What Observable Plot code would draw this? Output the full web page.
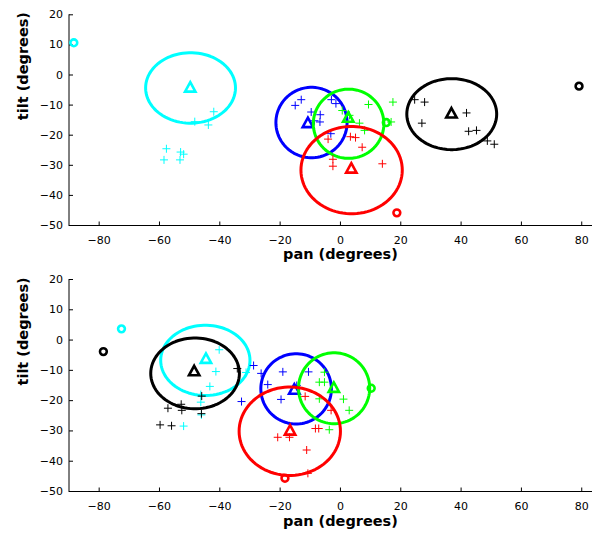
<!DOCTYPE html>
<html>
<head>
<meta charset="utf-8">
<script src="https://cdn.jsdelivr.net/npm/d3@7"></script>
<script src="https://cdn.jsdelivr.net/npm/@observablehq/plot@0.6"></script>
<style>
  html, body { margin: 0; padding: 0; background: white; overflow: hidden; }
  #chart svg { display: block; }
</style>
</head>
<body>
<div id="chart"></div>
<script>
// ---------- data ----------
const colorNames = ["cyan", "blue", "green", "red", "black"];
const colorValues = ["#00ffff", "#0000ff", "#00ff00", "#ff0000", "#000000"];
const xTicks = [-80, -60, -40, -20, 0, 20, 40, 60, 80];
const yTicks = [-50, -40, -30, -20, -10, 0, 10, 20];
const xLabel = "pan (degrees)";
const yLabel = "tilt (degrees)";

// top panel: ellipses (order = colorNames)
const topEllipseCX = [-49.7, -9.6, 2.7, 3.7, 36.9];
const topEllipseCY = [-4.3, -15.8, -16.2, -31.6, -13.0];
const topEllipseRX = [14.9, 11.8, 11.7, 16.8, 14.9];
const topEllipseRY = [11.7, 11.7, 11.5, 14.5, 11.8];
const topTriangleX = [-49.8, -10.8, 2.6, 3.6, 36.8];
const topTriangleY = [-4.2, -16.0, -14.2, -31.1, -12.8];
const topCircleX = [-88.4, null, 15.2, 18.7, 79.1];
const topCircleY = [10.7, null, -15.8, -45.8, -3.7];
const topCyanPlus = [[-42, -12.2], [-48.3, -15.5], [-43.8, -16.6], [-57.7, -24.5], [-58.5, -28.2], [-53, -25.6], [-52, -26.3], [-53.2, -28.2]];
const topBluePlus = [[-15, -10.1], [-13, -8.2], [-9.7, -12.3], [-6.7, -13.2], [-6.8, -15.6], [-8.6, -15.2], [-3, -8.2], [-1.5, -9.5], [-3.2, -19.5]];
const topGreenPlus = [[9.3, -9.8], [17.4, -9], [0.6, -11.8], [3, -13.4], [6.3, -16], [8, -18.4], [16.8, -15.6]];
const topRedPlus = [[-4.1, -21.3], [3.3, -20.5], [5, -20.8], [7.2, -24], [-2.5, -28], [-2.5, -30.3], [13.9, -29.5]];
const topBlackPlus = [[24.6, -8.2], [27.9, -9], [41.8, -12.6], [27, -16], [42.5, -18.7], [45.1, -18.4], [48.7, -21.9], [51, -23]];

// bottom panel
const botEllipseCX = [-44.8, -14.7, -2.1, -16.8, -48.2];
const botEllipseCY = [-6.7, -16.1, -15.9, -30.1, -11.0];
const botEllipseRX = [14.8, 11.7, 11.8, 16.8, 14.7];
const botEllipseRY = [11.6, 11.6, 11.7, 14.6, 11.7];
const botTriangleX = [-44.6, -15.3, -2.2, -16.7, -48.5];
const botTriangleY = [-6.2, -16.4, -15.8, -29.9, -10.3];
const botCircleX = [-72.6, null, 10.2, -18.4, -78.6];
const botCircleY = [3.7, null, -15.9, -45.6, -3.8];
const botCyanPlus = [[-40.2, -3.2], [-41.3, -10.4], [-43.3, -15.3], [-46.3, -18], [-46.3, -20.5], [-46.1, -24.7], [-52, -28.4], [-31.3, -10.7]];
const botBluePlus = [[-28.8, -8.4], [-26.3, -11], [-19.1, -10.5], [-10.6, -10.5], [-24.1, -14.7], [-19.7, -19.6], [-32.8, -20.3], [-14.5, -15]];
const botGreenPlus = [[-5.3, -10.6], [-7, -13.9], [-5.3, -13.9], [1, -19.5], [2.9, -23.2], [-3.7, -29.6], [-7, -19.4]];
const botRedPlus = [[-11.7, -18.6], [-20.8, -32.1], [-16.9, -32.1], [-8.3, -29.2], [-7.2, -29.2], [-11.2, -36.3], [-3.1, -23.2], [-10.8, -44]];
const botBlackPlus = [[-59.8, -28], [-56, -28.3], [-57.2, -22.5], [-52.8, -21.2], [-52.6, -23.2], [-46.1, -24.3], [-34.2, -9.4], [-46, -18.5]];

// ---------- symbols ----------
const plusSym = {draw(c) { c.moveTo(-4, 0); c.lineTo(4, 0); c.moveTo(0, -4); c.lineTo(0, 4); }};
const triSym = {draw(c) { c.moveTo(0, -5.5); c.lineTo(5.2, 4); c.lineTo(-5.2, 4); c.closePath(); }};
const circSym = {draw(c) { c.moveTo(3.4, 0); c.arc(0, 0, 3.4, 0, 2 * Math.PI); c.closePath(); }};
const xTickSym = {draw(c) { c.moveTo(0, 0); c.lineTo(0, -4); }};
const yTickSym = {draw(c) { c.moveTo(0, 0); c.lineTo(4, 0); }};

function ellipsePoints(cx, cy, rx, ry) {
  const pts = [];
  for (let a = 0; a <= 360; a += 4) {
    const t = a * Math.PI / 180;
    pts.push({x: cx + rx * Math.cos(t), y: cy + ry * Math.sin(t)});
  }
  return pts;
}

function panel(p) {
  const W = 592, H = 268;
  const marginLeft = 68.5, marginRight = -19.4;
  const marks = [];
  // axes lines
  marks.push(Plot.ruleY([-50], {stroke: "black", strokeWidth: 1}));
  marks.push(Plot.ruleX([-90], {stroke: "black", strokeWidth: 1}));
  marks.push(Plot.dot(xTicks, {x: d => d, y: () => -50, symbol: xTickSym, stroke: "black", fill: "none", strokeWidth: 1}));
  marks.push(Plot.dot(yTicks, {x: () => -90, y: d => d, symbol: yTickSym, stroke: "black", fill: "none", strokeWidth: 1}));
  const plusSets = [p.cyanPlus, p.bluePlus, p.greenPlus, p.redPlus, p.blackPlus];
  colorNames.forEach((name, i) => {
    const col = colorValues[i];
    marks.push(Plot.line(ellipsePoints(p.ecx[i], p.ecy[i], p.erx[i], p.ery[i]),
      {x: "x", y: "y", stroke: col, strokeWidth: 3, curve: "linear-closed"}));
    marks.push(Plot.dot(plusSets[i], {x: d => d[0], y: d => d[1], symbol: plusSym, stroke: col, fill: "none", strokeWidth: 1}));
    marks.push(Plot.dot([i], {x: j => p.tx[j], y: j => p.ty[j], symbol: triSym, stroke: col, fill: "none", strokeWidth: 2.6}));
    if (p.cx[i] != null) {
      marks.push(Plot.dot([i], {x: j => p.cx[j], y: j => p.cy[j], symbol: circSym, stroke: col, fill: "none", strokeWidth: 2.6}));
    }
  });
  marks.push(Plot.text([xLabel], {frameAnchor: "bottom", dy: p.xLabelDy, fontWeight: "bold", fontSize: 14.5, fill: "black"}));
  marks.push(Plot.text([yLabel], {frameAnchor: "left", dx: -46, rotate: -90, fontWeight: "bold", fontSize: 14.5, fill: "black"}));
  return Plot.plot({
    width: W, height: H,
    marginLeft, marginRight, marginTop: p.top, marginBottom: H - p.bottom,
    style: {fontFamily: "DejaVu Sans, sans-serif", fontSize: "11px", background: "white", color: "black"},
    x: {domain: [-90, 90], range: [marginLeft, W - marginRight], ticks: xTicks, tickSize: 0, tickPadding: 11, label: null},
    y: {domain: [-50, 20], range: [p.bottom, p.top], ticks: yTicks, tickSize: 0, tickPadding: 6, label: null},
    marks
  });
}

const chart = document.getElementById("chart");
chart.appendChild(panel({
  top: 14.3, bottom: 225, xLabelDy: 33.5,
  ecx: topEllipseCX, ecy: topEllipseCY, erx: topEllipseRX, ery: topEllipseRY,
  tx: topTriangleX, ty: topTriangleY, cx: topCircleX, cy: topCircleY,
  cyanPlus: topCyanPlus, bluePlus: topBluePlus, greenPlus: topGreenPlus, redPlus: topRedPlus, blackPlus: topBlackPlus
}));
chart.appendChild(panel({
  top: 11, bottom: 223, xLabelDy: 34,
  ecx: botEllipseCX, ecy: botEllipseCY, erx: botEllipseRX, ery: botEllipseRY,
  tx: botTriangleX, ty: botTriangleY, cx: botCircleX, cy: botCircleY,
  cyanPlus: botCyanPlus, bluePlus: botBluePlus, greenPlus: botGreenPlus, redPlus: botRedPlus, blackPlus: botBlackPlus
}));
</script>
</body>
</html>
